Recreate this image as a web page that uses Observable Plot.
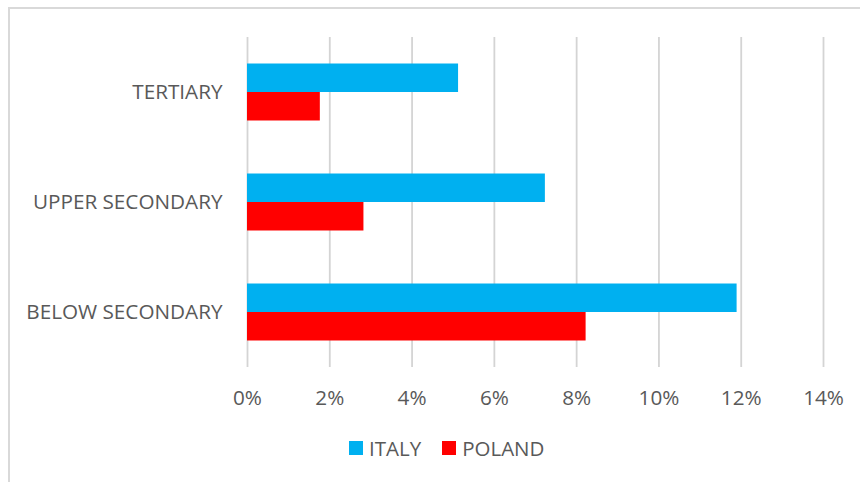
<!DOCTYPE html>
<html>
<head>
<meta charset="utf-8">
<script src="https://cdn.jsdelivr.net/npm/d3@7"></script>
<script src="https://cdn.jsdelivr.net/npm/@observablehq/plot@0.6"></script>
<style>
  html, body { margin: 0; padding: 0; background: #fff; overflow: hidden; }
  #wrap { position: relative; width: 860px; height: 482px; font-family: "Open Sans", sans-serif; color: #595959; }
  #border { position: absolute; left: 8px; top: 7px; width: 900px; height: 520px; border: 2px solid #d9d9d9; box-sizing: border-box; }
  #chart { position: absolute; left: 0; top: 0; }
  #legend { position: absolute; top: 434px; left: 349px; display: flex; align-items: center; font-size: 20.5px; color: #595959; }
  .item { display: flex; align-items: center; margin-right: 21px; }
  .sw { width: 14px; height: 14px; margin-right: 6px; }
</style>
</head>
<body>
<div id="wrap">
  <div id="border"></div>
  <div id="chart"></div>
  <div id="legend"></div>
</div>
<script>
const categories = ["TERTIARY", "UPPER SECONDARY", "BELOW SECONDARY"];
const countries = ["ITALY", "POLAND"];
const italy = [5.13, 7.24, 11.90];
const poland = [1.77, 2.83, 8.23];
const xTicks = [0, 2, 4, 6, 8, 10, 12, 14];
const colors = ["#00B0F0", "#FF0000"];

const rows = [];
categories.forEach((c, i) => {
  rows.push({category: c, country: "ITALY", value: italy[i]});
  rows.push({category: c, country: "POLAND", value: poland[i]});
});

const chart = Plot.plot({
  width: 860,
  height: 430,
  marginTop: 36,
  marginBottom: 62,
  marginLeft: 247,
  marginRight: 37,
  style: {fontFamily: "Open Sans", fontSize: "20.7px", color: "#595959", background: "transparent"},
  facet: {data: rows, y: "category"},
  fy: {domain: categories, axis: "left", padding: 0, label: null, tickSize: 0, tickPadding: 25},
  y: {domain: countries, axis: null, paddingInner: 0, paddingOuter: 0.93, round: false},
  x: {domain: [0, 14], ticks: xTicks, tickFormat: d => d + "%", tickSize: 0, tickPadding: 23, label: null, grid: false},
  color: {domain: countries, range: colors},
  marks: [
    Plot.ruleX(xTicks, {stroke: "#d4d4d4", strokeWidth: 1.8}),
    Plot.barX(rows, {x: "value", y: "country", fill: "country"})
  ]
});
chart.querySelectorAll("text").forEach(t => t.setAttribute("font-size", "20.7"));
document.getElementById("chart").appendChild(chart);

const legend = document.getElementById("legend");
countries.forEach((c, i) => {
  const item = document.createElement("div");
  item.className = "item";
  const sw = document.createElement("div");
  sw.className = "sw";
  sw.style.background = colors[i];
  const t = document.createElement("span");
  t.textContent = c;
  item.appendChild(sw);
  item.appendChild(t);
  legend.appendChild(item);
});
</script>
</body>
</html>
